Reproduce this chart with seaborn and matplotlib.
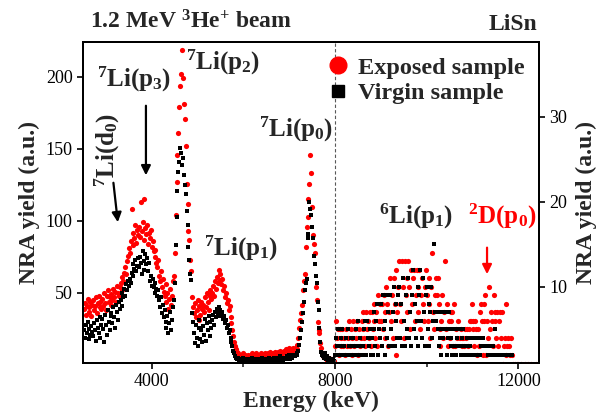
import numpy as np
import matplotlib
matplotlib.use("Agg")
import matplotlib.pyplot as plt
import seaborn as sns
from matplotlib.lines import Line2D

# ---- datos ----
# region baja (eje izquierdo): canales de 20 keV desde 2520 hasta 7980 keV
e_left = 2520 + 20 * np.arange(274)
exp_left = [
    39, 43, 35, 41, 46, 37, 40, 44, 34, 42,
    45, 38, 41, 47, 36, 43, 48, 40, 44, 39,
    46, 41, 50, 43, 38, 48, 52, 44, 47, 42,
    49, 45, 53, 47, 51, 44, 55, 50, 48, 54,
    57, 52, 61, 58, 64, 68, 63, 72, 76, 81,
    78, 86, 108, 83, 92, 88, 97, 85, 94, 90,
    96, 89, 113, 93, 99, 115, 87, 95, 91, 97,
    84, 92, 88, 94, 82, 86, 79, 75, 80, 71,
    68, 73, 62, 58, 65, 54, 60, 51, 48, 56,
    44, 50, 39, 46, 53, 42, 48, 58, 62, 78,
    104, 127, 146, 161, 179, 194, 202, 219, 199, 181,
    171, 152, 126, 112, 93, 87, 73, 65, 47, 40,
    36, 43, 33, 38, 45, 31, 41, 35, 44, 39,
    42, 37, 47, 40, 50, 44, 38, 48, 52, 46,
    50, 55, 48, 58, 53, 61, 57, 66, 59, 63,
    56, 60, 52, 55, 47, 50, 43, 45, 38, 41,
    33, 29, 24, 20, 16, 13, 11, 9, 8, 7,
    6, 7, 5, 6, 8, 5, 7, 6, 5, 7,
    6, 5, 7, 8, 6, 5, 7, 6, 8, 5,
    7, 6, 5, 8, 6, 7, 5, 6, 8, 7,
    6, 8, 7, 9, 6, 7, 8, 6, 9, 7,
    8, 7, 9, 8, 10, 7, 9, 8, 10, 9,
    9, 11, 8, 10, 12, 9, 11, 10, 12, 11,
    10, 12, 11, 14, 19, 26, 31, 36, 42, 52,
    58, 63, 82, 96, 103, 115, 126, 146, 133, 110,
    90, 84, 78, 54, 45, 30, 24, 22, 15, 12,
    8, 6, 7, 5, 5, 3, 4, 5, 3, 4,
    3, 4, 3, 3,
]
vir_left = [
    24, 19, 28, 22, 30, 18, 25, 21, 27, 23,
    20, 29, 24, 17, 31, 26, 22, 33, 19, 28,
    32, 25, 16, 35, 28, 21, 38, 30, 24, 34,
    36, 29, 40, 33, 26, 42, 37, 31, 44, 39,
    45, 41, 50, 47, 53, 48, 56, 52, 58, 55,
    60, 57, 64, 70, 62, 67, 73, 65, 69, 74,
    68, 75, 71, 63, 79, 66, 72, 77, 70, 74,
    65, 71, 58, 62, 55, 60, 54, 57, 50, 53,
    48, 52, 45, 40, 47, 36, 42, 33, 38, 30,
    26, 34, 22, 29, 37, 24, 31, 40, 45, 57,
    83, 103, 121, 134, 141, 151, 147, 139, 144, 132,
    125, 119, 107, 97, 82, 73, 63, 59, 36, 30,
    22, 15, 28, 19, 13, 26, 31, 18, 24, 16,
    27, 21, 32, 17, 29, 24, 34, 20, 30, 26,
    31, 35, 28, 37, 33, 39, 36, 40, 34, 38,
    35, 37, 32, 34, 29, 31, 26, 28, 22, 24,
    19, 16, 13, 10, 8, 6, 5, 4, 5, 3,
    3, 4, 2, 3, 5, 3, 2, 4, 3, 2,
    4, 3, 2, 5, 3, 4, 2, 3, 4, 3,
    3, 2, 4, 3, 5, 2, 3, 4, 2, 3,
    4, 3, 5, 2, 4, 3, 3, 5, 4, 2,
    3, 5, 4, 3, 6, 4, 5, 3, 4, 5,
    5, 4, 6, 5, 7, 4, 6, 5, 7, 6,
    6, 7, 8, 7, 10, 14, 19, 24, 30, 36,
    44, 52, 57, 60, 88, 91, 113, 108, 104, 96,
    88, 76, 70, 62, 57, 44, 38, 26, 16, 9,
    7, 6, 5, 8, 4, 6, 3, 5, 4, 3,
    3, 2, 4, 3,
]

# region alta (eje derecho): canales de 20 keV desde 8000 hasta 12380 keV
e_right = 8000 + 20 * np.arange(220)
exp_right = [
    3, 6, 4, 5, 2, 5, 3, 4, 5, 3,
    4, 2, 5, 3, 4, 6, 3, 5, 2, 4,
    6, 3, 5, 4, 6, 2, 5, 3, 4, 6,
    5, 7, 4, 3, 7, 5, 6, 4, 7, 3,
    7, 5, 6, 8, 4, 7, 3, 9, 6, 8,
    6, 8, 5, 9, 7, 4, 10, 8, 3, 7,
    11, 6, 9, 4, 11, 8, 12, 2, 7, 10,
    13, 8, 6, 13, 10, 4, 13, 9, 11, 7,
    13, 10, 5, 12, 8, 11, 12, 6, 9, 12,
    10, 7, 12, 5, 9, 11, 8, 6, 10, 12,
    9, 6, 11, 8, 4, 10, 14, 7, 5, 9,
    11, 9, 11, 8, 5, 3, 6, 9, 4, 7,
    13, 5, 8, 3, 6, 4, 7, 6, 7, 3,
    8, 3, 5, 4, 6, 1, 4, 5, 3, 4,
    4, 3, 5, 4, 5, 3, 5, 6, 6, 8,
    5, 6, 3, 6, 5, 2, 5, 3, 7, 8,
    6, 2, 8, 6, 9, 2, 6, 4, 10, 5,
    7, 6, 3, 9, 7, 6, 4, 7, 3, 6,
    7, 4, 7, 1, 3, 4, 8, 2, 3, 4,
    3, 2, 4, 2, 1, 0, 1, 0, 1, 0,
    1, 0, 0, 1, 0, 0, 0, 1, 0, 0,
    1, 0, 0, 0, 1, 0, 0, 0, 0, 1,
]
vir_right = [
    2, 4, 3, 5, 2, 3, 4, 2, 5, 3,
    3, 2, 4, 2, 5, 3, 2, 4, 3, 2,
    4, 2, 3, 5, 2, 6, 3, 4, 2, 3,
    2, 3, 5, 6, 2, 6, 4, 3, 5, 2,
    4, 2, 7, 5, 3, 6, 8, 2, 5, 4,
    8, 3, 9, 5, 2, 6, 9, 4, 7, 3,
    9, 5, 3, 7, 10, 3, 8, 6, 4, 9,
    10, 4, 8, 3, 11, 6, 3, 9, 5, 4,
    11, 4, 7, 3, 9, 12, 5, 8, 4, 6,
    10, 3, 9, 12, 6, 4, 11, 7, 3, 9,
    10, 5, 8, 3, 7, 10, 4, 6, 15, 7,
    6, 7, 5, 3, 7, 4, 2, 5, 4, 7,
    7, 5, 2, 4, 7, 5, 3, 4, 2, 3,
    5, 3, 2, 4, 5, 3, 5, 2, 4, 3,
    5, 2, 3, 2, 4, 3, 2, 3, 4, 2,
    4, 2, 4, 2, 4, 2, 2, 4, 2, 3,
    3, 4, 3, 1, 3, 1, 3, 2, 3, 2,
    3, 2, 3, 2, 5, 2, 2, 1, 2, 2,
    2, 2, 1, 2, 2, 0, 2, 2, 1, 2,
    2, 2, 1, 2, 0, 1, 0, 0, 1, 0,
    0, 0, 1, 0, 0, 0, 0, 0, 0, 0,
    0, 0, 0, 0, 0, 0, 0, 0, 0, 0,
]

sns.set_theme(style="ticks")
plt.rcParams["font.family"] = ["Liberation Serif", "DejaVu Serif"]
plt.rcParams["mathtext.fontset"] = "custom"
plt.rcParams["mathtext.rm"] = "Liberation Serif:bold"
plt.rcParams["mathtext.bf"] = "Liberation Serif:bold"
plt.rcParams["mathtext.it"] = "Liberation Serif:bold"

fig = plt.figure(figsize=(6.09, 4.18), dpi=100)
ax = fig.add_axes([0.1363, 0.1316, 0.7488, 0.768])
ax2 = ax.twinx()

# region baja
sns.scatterplot(x=e_left, y=exp_left, ax=ax, color="red", marker="o",
                s=14, linewidth=0, legend=False, clip_on=True)
sns.scatterplot(x=e_left, y=vir_left, ax=ax, color="black", marker="s",
                s=8, linewidth=0, legend=False, clip_on=True)
# region alta
sns.scatterplot(x=e_right, y=exp_right, ax=ax2, color="red", marker="o",
                s=14, linewidth=0, legend=False, clip_on=True)
sns.scatterplot(x=e_right, y=vir_right, ax=ax2, color="black", marker="s",
                s=8, linewidth=0, legend=False, clip_on=True)

ax.axvline(8000, color="0.35", ls=(0, (3, 2)), lw=0.8)

ax.set_xlim(2500, 12450)
ax.set_ylim(1.4, 224.3)
ax2.set_ylim(1.06, 38.8)

ax.set_xticks([4000, 8000, 12000])
ax.set_xticks([6000, 10000], minor=True)
ax.set_yticks([50, 100, 150, 200])
ax2.set_yticks([10, 20, 30])

for a in (ax, ax2):
    for sp in a.spines.values():
        sp.set_linewidth(1.4)
        sp.set_color("black")
ax.tick_params(axis="both", which="major", direction="out", length=4,
               width=1.2, labelsize=13, colors="black", top=False, right=False)
ax.tick_params(axis="x", which="minor", direction="out", length=3, width=1.2)
ax2.tick_params(axis="y", direction="out", length=4, width=1.2,
                labelsize=13, colors="black")

lab = dict(fontsize=17, fontweight="bold")
ax.set_xlabel("Energy (keV)", labelpad=0, **lab)
ax.set_ylabel("NRA yield (a.u.)", labelpad=4, **lab)
ax2.set_ylabel("NRA yield (a.u.)", labelpad=6, **lab)

fig.text(90 / 609, 1 - 22 / 418, r"1.2 MeV $^{3}$He$^{+}$ beam",
         fontsize=17, fontweight="bold", ha="left", va="center")
fig.text(537 / 609, 1 - 24 / 418, "LiSn", fontsize=17, fontweight="bold",
         ha="right", va="center")

# anotaciones
ann = dict(fontsize=18, fontweight="bold", transform=ax.transAxes,
           ha="center", va="center")
ax.text(0.112, 0.882, r"$^{7}$Li(p$_{3}$)", **ann)
ax.text(0.307, 0.935, r"$^{7}$Li(p$_{2}$)", **ann)
ax.text(0.467, 0.726, r"$^{7}$Li(p$_{0}$)", **ann)
ax.text(0.346, 0.358, r"$^{7}$Li(p$_{1}$)", **ann)
ax.text(0.730, 0.458, r"$^{6}$Li(p$_{1}$)", **ann)
ax.text(0.919, 0.458, r"$^{2}$D(p$_{0}$)", color="red", **ann)
ax.text(0.053, 0.664, r"$^{7}$Li(d$_{0}$)", rotation=90, **ann)

arr = dict(arrowstyle="-|>", lw=1.6, mutation_scale=14)
ax.annotate("", xy=(0.138, 0.576), xytext=(0.138, 0.810),
            xycoords="axes fraction", arrowprops=dict(color="black", **arr))
ax.annotate("", xy=(0.077, 0.430), xytext=(0.066, 0.570),
            xycoords="axes fraction", arrowprops=dict(color="black", **arr))
ax2.annotate("", xy=(0.886, 0.268), xytext=(0.886, 0.368),
             xycoords="axes fraction", arrowprops=dict(color="red", **arr))

handles = [
    Line2D([], [], marker="o", color="red", ls="", markersize=12),
    Line2D([], [], marker="s", color="black", ls="", markersize=9),
]
ax2.legend(handles, ["Exposed sample", "Virgin sample"], loc="upper right",
           bbox_to_anchor=(1.0, 1.0), frameon=False, handlelength=1.0,
           handletextpad=0.3, labelspacing=0.15, borderaxespad=0.2,
           prop=dict(size=17.5, weight="bold"))

fig.savefig("out.png", dpi=100)
